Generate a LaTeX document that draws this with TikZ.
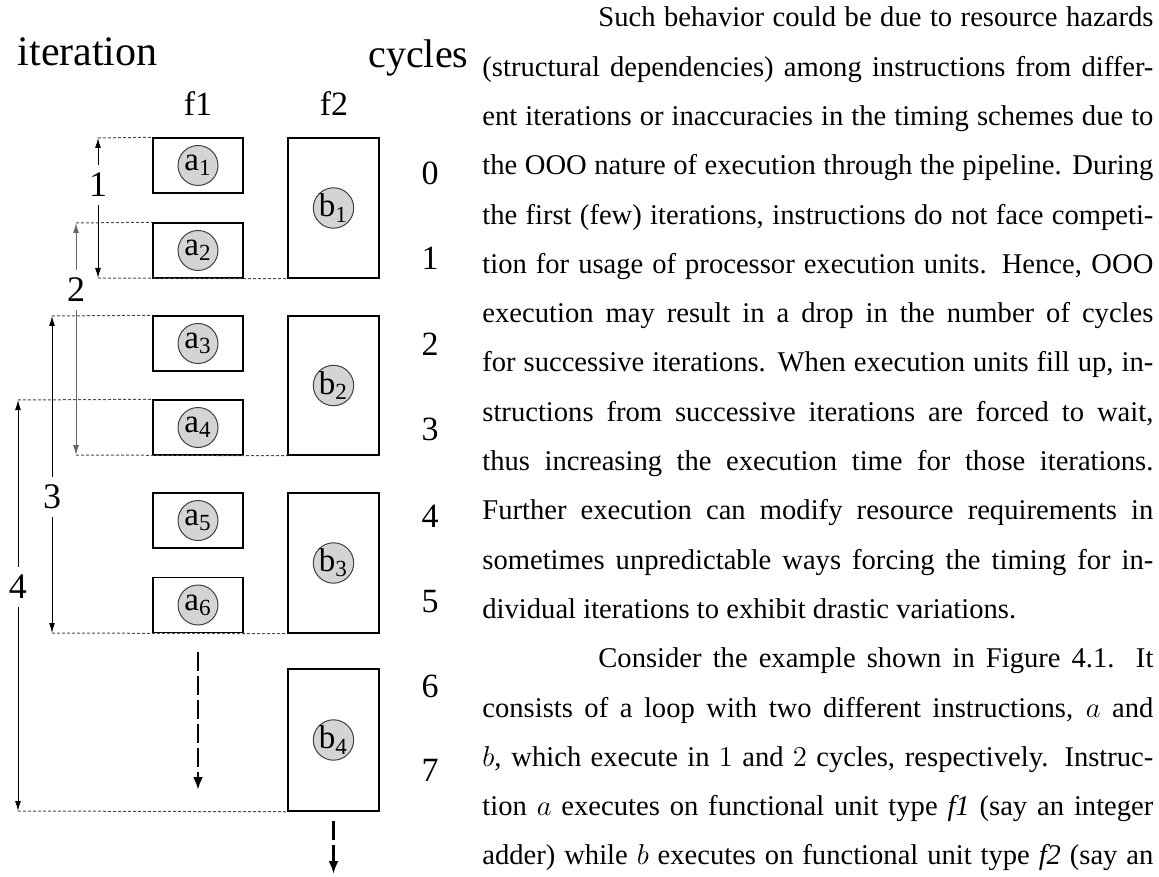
\documentclass[tikz,border=0pt]{standalone}
\usepackage{fontspec}
\setmainfont{Liberation Serif}
\usetikzlibrary{arrows.meta}
\usetikzlibrary{calc}

\tikzset{
  unitbox/.style={draw, line width=.75pt, inner sep=0pt, minimum width=45pt},
  opcircle/.style={circle, draw=black!75, fill=black!17, line width=.5pt,
    minimum size=20pt, inner sep=0pt, font=\fontsize{16.5}{16.5}\selectfont},
  guide/.style={black!70, line width=.5pt, dash pattern=on 1.5pt off 1pt},
  spanarrow/.style={{Latex[length=5pt,width=3pt]}-{Latex[length=5pt,width=3pt]}, line width=.5pt},
  spanlabel/.style={fill=white, text=black, inner sep=4pt, font=\fontsize{18}{18}\selectfont},
  nextarrow/.style={-{Latex[length=6.5pt,width=5pt]}, line width=1.3pt, dash pattern=on 9.5pt off 2.5pt},
  headlabel/.style={inner sep=0pt, font=\fontsize{20}{20}\selectfont},
}

\begin{document}
\begin{tikzpicture}[x=.5pt, y=-.5pt, font=\fontsize{17}{17}\selectfont]
  \useasboundingbox (0,0) rectangle (1159,876);

    %----------------------------------------------------------
    % Headings
    %----------------------------------------------------------
  \node[headlabel, anchor=base east, font=\fontsize{21}{21}\selectfont] (iterhead) at (158,66) {iteration};
  \node[headlabel, anchor=base west] (cychead) at (368,68) {cycles};
  \node[anchor=base] (f1head) at (198,116) {f1};
  \node[anchor=base] (f2head) at (334,116) {f2};

    %----------------------------------------------------------
    % Functional unit slots
    %----------------------------------------------------------
  \foreach \i/\y in {1/165.5, 2/250.5, 3/343.5, 4/427.5, 5/520.5, 6/605}{
    \node[unitbox, minimum height=27.5pt] (a\i) at (198,\y) {};
    \node[opcircle] (ca\i) at (a\i) {a\textsubscript{\i}};
  }
  \foreach \i/\y/\h in {1/208/70, 2/385.5/69.5, 3/563/70, 4/740/71}{
    \node[unitbox, minimum width=45.5pt, minimum height=\h pt] (b\i) at (333.5,\y) {};
    \node[opcircle] (cb\i) at (b\i) {b\textsubscript{\i}};
  }

  % cycle numbers
  \foreach \c/\y in {0/173, 1/258, 2/344, 3/429, 4/516, 5/602, 6/686, 7/770}
    \node (cyc\c) at (430,\y) {\c};

    %----------------------------------------------------------
    % Iteration spans
    %----------------------------------------------------------
  \coordinate (s1a) at (98,138);  \coordinate (s1b) at (98,278);
  \coordinate (s2a) at (76,223);  \coordinate (s2b) at (76,455);
  \coordinate (s3a) at (52,316);  \coordinate (s3b) at (52,633);
  \coordinate (s4a) at (18,400);  \coordinate (s4b) at (18,811);

  \draw[guide] (s1a) -- (a1.north west);
  \draw[guide] (s1b) -- (b1.south west);
  \draw[guide] (s2a) -- (a2.north west);
  \draw[guide] (s2b) -- (b2.south west);
  \draw[guide] (s3a) -- (a3.north west);
  \draw[guide] (s3b) -- (b3.south west);
  \draw[guide] (s4a) -- (a4.north west);
  \draw[guide] (s4b) -- (b4.south west);

  \draw[spanarrow] (s1a) -- node[spanlabel, pos=.336] (n1) {1} (s1b);
  \draw[spanarrow, black!60] (s2a) -- node[spanlabel, pos=.289] (n2) {2} (s2b);
  \draw[spanarrow] (s3a) -- node[spanlabel, pos=.571] (n3) {3} (s3b);
  \draw[spanarrow] (s4a) -- node[spanlabel, pos=.455] (n4) {4} (s4b);

  % further iterations
  \coordinate (f1next) at (198,790);
  \coordinate (f2next) at (333.5,874);
  \draw[nextarrow] ($(a6.south)+(0,19)$) -- (f1next);
  \draw[nextarrow] ($(b4.south)+(0,9)$) -- (f2next);

    %----------------------------------------------------------
    % Running text
    %----------------------------------------------------------
  \node[anchor=north west, inner sep=0pt, text width=335.5pt, align=justify,
        font=\fontsize{14.3}{24.65}\selectfont] (body) at (482,6.5) {%
    \parskip=0pt\parindent=0pt
    \rule{0pt}{10pt}\hspace*{58pt}Such behavior could be due to resource hazards\linebreak
    (structural dependencies) among instructions from differ-\linebreak
    ent iterations or inaccuracies in the timing schemes due to\linebreak
    the OOO nature of execution through the pipeline. During\linebreak
    the first (few) iterations, instructions do not face competi-\linebreak
    tion for usage of processor execution units. Hence, OOO\linebreak
    execution may result in a drop in the number of cycles\linebreak
    for successive iterations. When execution units fill up, in-\linebreak
    structions from successive iterations are forced to wait,\linebreak
    thus increasing the execution time for those iterations.\linebreak
    Further execution can modify resource requirements in\linebreak
    sometimes unpredictable ways forcing the timing for in-\linebreak
    dividual iterations to exhibit drastic variations.\par
    \hspace*{58pt}Consider the example shown in Figure 4.1. It\linebreak
    consists of a loop with two different instructions, $a$ and\linebreak
    $b$, which execute in $1$ and $2$ cycles, respectively. Instruc-\linebreak
    tion $a$ executes on functional unit type \textit{f1} (say an integer\linebreak
    adder) while $b$ executes on functional unit type \textit{f2} (say an\parfillskip=0pt\par
  };
\end{tikzpicture}
\end{document}
